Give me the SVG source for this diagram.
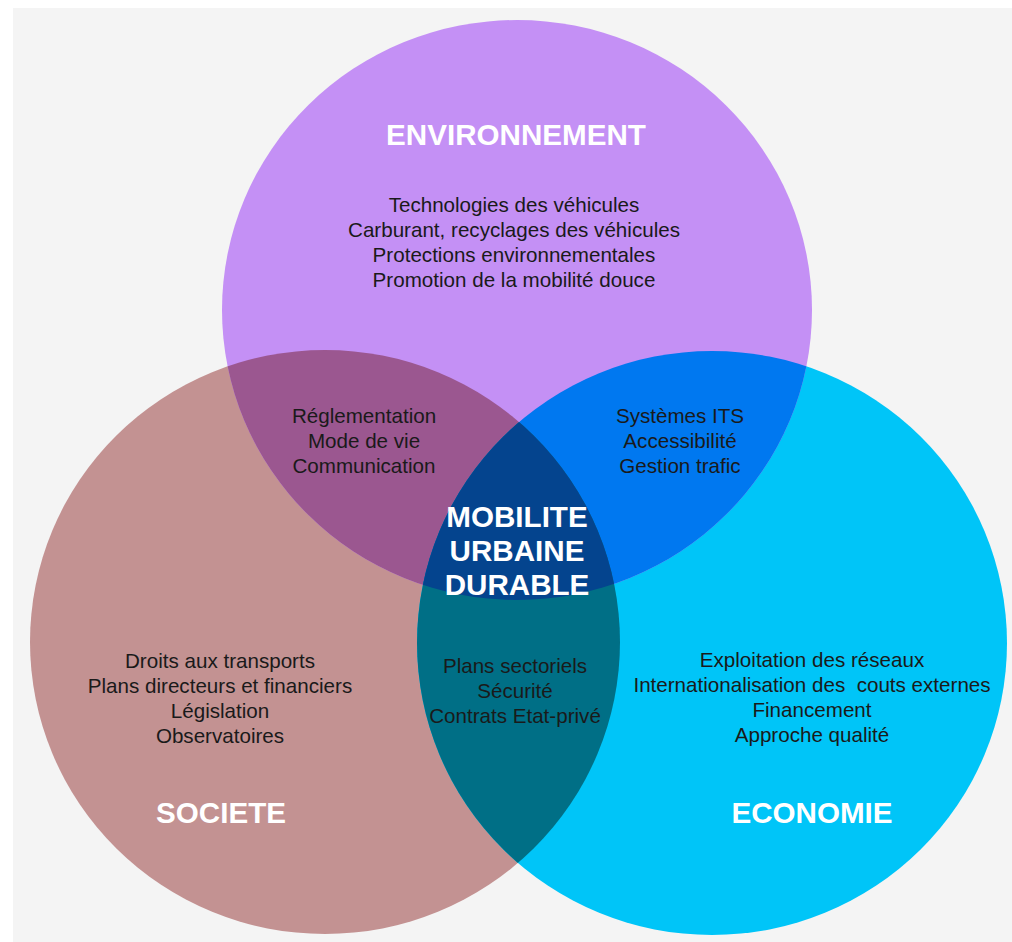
<svg xmlns="http://www.w3.org/2000/svg" width="1012" height="942" viewBox="0 0 1012 942">
  <style>
    .title { font-family: "Liberation Sans", Arial, sans-serif; font-weight: bold; font-size: 29.6px; fill: #ffffff; text-anchor: middle; }
    .body { font-family: "Liberation Sans", Arial, sans-serif; font-size: 20.6px; fill: #1a1a1a; text-anchor: middle; white-space: pre; }
  </style>
  <defs>
    <ellipse id="shTop" cx="517" cy="310" rx="295" ry="290"/>
    <ellipse id="shLeft" cx="325" cy="642" rx="295" ry="292"/>
    <ellipse id="shRight" cx="712" cy="643" rx="295" ry="292"/>
    <clipPath id="clipTop"><use href="#shTop"/></clipPath>
    <clipPath id="clipLeft"><use href="#shLeft"/></clipPath>
    <clipPath id="clipRight"><use href="#shRight"/></clipPath>
  </defs>

  <rect x="0" y="0" width="1012" height="942" fill="#ffffff"/>
  <rect x="13" y="8" width="999" height="934" fill="#f4f4f4"/>

  <g id="societe">
    <use href="#shLeft" fill="#c39292"/>
  </g>
  <g id="economie">
    <use href="#shRight" fill="#00c5f8"/>
  </g>
  <g id="environnement">
    <use href="#shTop" fill="#c490f5"/>
  </g>

  <g id="env-soc">
    <g clip-path="url(#clipLeft)"><use href="#shTop" fill="#9b5790"/></g>
  </g>
  <g id="env-eco">
    <g clip-path="url(#clipRight)"><use href="#shTop" fill="#0078f0"/></g>
  </g>
  <g id="soc-eco">
    <g clip-path="url(#clipRight)"><use href="#shLeft" fill="#006f86"/></g>
  </g>
  <g id="mobilite">
    <g clip-path="url(#clipTop)"><g clip-path="url(#clipRight)"><use href="#shLeft" fill="#04448e"/></g></g>
  </g>

  <g id="labels-environnement">
    <text class="title" x="516" y="145">ENVIRONNEMENT</text>
    <text class="body" x="514" y="212">Technologies des véhicules</text>
    <text class="body" x="514" y="237">Carburant, recyclages des véhicules</text>
    <text class="body" x="514" y="262">Protections environnementales</text>
    <text class="body" x="514" y="287">Promotion de la mobilité douce</text>
  </g>
  <g id="labels-env-soc">
    <text class="body" x="364" y="423">Réglementation</text>
    <text class="body" x="364" y="448">Mode de vie</text>
    <text class="body" x="364" y="473">Communication</text>
  </g>
  <g id="labels-env-eco">
    <text class="body" x="680" y="423">Systèmes ITS</text>
    <text class="body" x="680" y="448">Accessibilité</text>
    <text class="body" x="680" y="473">Gestion trafic</text>
  </g>
  <g id="labels-mobilite">
    <text class="title" x="517" y="527">MOBILITE</text>
    <text class="title" x="517" y="561">URBAINE</text>
    <text class="title" x="517" y="595">DURABLE</text>
  </g>
  <g id="labels-societe">
    <text class="body" x="220" y="668">Droits aux transports</text>
    <text class="body" x="220" y="693">Plans directeurs et financiers</text>
    <text class="body" x="220" y="718">Législation</text>
    <text class="body" x="220" y="743">Observatoires</text>
    <text class="title" x="221" y="823">SOCIETE</text>
  </g>
  <g id="labels-soc-eco">
    <text class="body" x="515" y="673">Plans sectoriels</text>
    <text class="body" x="515" y="698">Sécurité</text>
    <text class="body" x="515" y="723">Contrats Etat-privé</text>
  </g>
  <g id="labels-economie">
    <text class="body" x="812" y="667">Exploitation des réseaux</text>
    <text class="body" x="812" y="692" xml:space="preserve">Internationalisation des  couts externes</text>
    <text class="body" x="812" y="717">Financement</text>
    <text class="body" x="812" y="742">Approche qualité</text>
    <text class="title" x="812" y="823">ECONOMIE</text>
  </g>
</svg>
